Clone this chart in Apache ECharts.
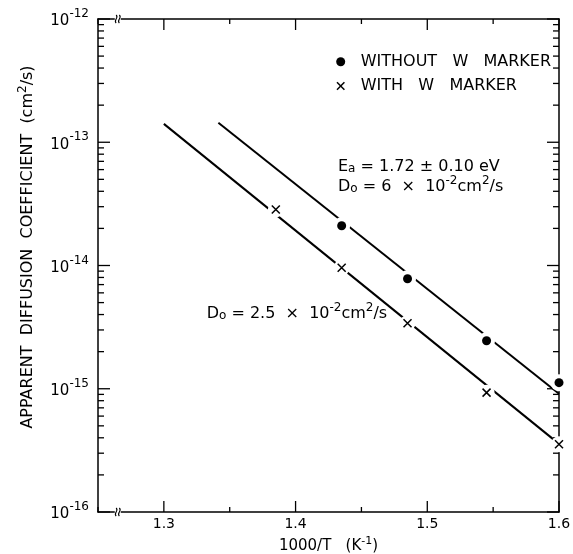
<!DOCTYPE html>
<html>
<head>
<meta charset="utf-8">
<script src="https://cdn.jsdelivr.net/npm/echarts@6/dist/echarts.min.js"></script>
<style>html,body{margin:0;padding:0;background:#fff}#c{width:573px;height:554px}</style>
</head>
<body>
<div id="c"></div>
<script>
// ---- data ----
const withoutX = [1.435, 1.485, 1.545, 1.600];
const withoutY = [2.1e-14, 7.8e-15, 2.45e-15, 1.12e-15];
const withX = [1.385, 1.435, 1.485, 1.545, 1.600];
const withY = [2.85e-14, 9.6e-15, 3.4e-15, 9.3e-16, 3.55e-16];
const fitWithoutX = [1.3414, 1.600];
const fitWithoutY = [1.44e-13, 9.1e-16];
const fitWithX = [1.300, 1.600];
const fitWithY = [1.41e-13, 3.57e-16];
// axis / tick definitions
const xMin = 1.25, xMax = 1.60, xStep = 0.05;
const yMin = 1e-16, yMax = 1e-12;
const decades = [-16, -15, -14, -13, -12];
const mantissas = [1, 2, 3, 4, 5, 6, 7, 8, 9];
const xTickValues = [1.25, 1.30, 1.35, 1.40, 1.45, 1.50, 1.55, 1.60];
const xMajorTicks = [1.30, 1.40, 1.50, 1.60];
const breakX = 1.265;
const legendNames = ['WITHOUT   W   MARKER', 'WITH   W   MARKER'];

const F = 'DejaVu Sans';

function pairs(xs, ys) { return xs.map((x, i) => [x, ys[i]]); }

// tick items: [x, y, side(0 L,1 R,2 B,3 T), major]
const tickItems = [];
decades.forEach(d => {
  mantissas.forEach(m => {
    if (d === -12 && m > 1) return;
    const v = m * Math.pow(10, d);
    const major = m === 1 ? 1 : 0;
    tickItems.push([xMin, v, 0, major]);
    tickItems.push([xMax, v, 1, major]);
  });
});
xTickValues.forEach(x => {
  const major = xMajorTicks.some(t => Math.abs(t - x) < 1e-9) ? 1 : 0;
  tickItems.push([x, yMin, 2, major]);
  tickItems.push([x, yMax, 3, major]);
});

const chart = echarts.init(document.getElementById('c'), null, {renderer: 'canvas'});

const axisLineStyle = {lineStyle: {color: '#000', width: 1.5}};
const crossPath = 'path://M0,0L8,8M8,0L0,8';

const richAnn = {
  n: {fontFamily: F, fontSize: 16, lineHeight: 24, verticalAlign: 'middle', fill: '#000'},
  u: {fontFamily: F, fontSize: 12, lineHeight: 24, verticalAlign: 'middle', padding: [4, 0, 0, 0], fill: '#000'},
  s: {fontFamily: F, fontSize: 12, lineHeight: 24, verticalAlign: 'top', fill: '#000'}
};

const option = {
  animation: false,
  backgroundColor: '#fff',
  grid: {left: 98, right: 14, top: 19, bottom: 42, containLabel: false, outerBoundsMode: 'none'},
  xAxis: [
    {
      type: 'value', min: xMin, max: xMax, interval: xStep, position: 'bottom',
      axisLine: axisLineStyle, axisTick: {show: false}, splitLine: {show: false},
      axisLabel: {
        margin: 5, color: '#000', fontFamily: F, fontSize: 14,
        formatter: v => {
          const r = Math.round(v * 100);
          return (r % 10 === 0) ? (r / 100).toFixed(1) : '';
        }
      },
      name: '{t|1000/T   (K}{s|-1}{t|)}',
      nameLocation: 'middle', nameGap: 24,
      nameTextStyle: {
        rich: {
          t: {fontFamily: F, fontSize: 15, color: '#000', lineHeight: 20, verticalAlign: 'middle'},
          s: {fontFamily: F, fontSize: 11, color: '#000', lineHeight: 20, verticalAlign: 'top'}
        }
      }
    },
    {
      type: 'value', min: xMin, max: xMax, interval: xStep, position: 'top',
      axisLine: axisLineStyle, axisTick: {show: false}, splitLine: {show: false},
      axisLabel: {show: false}
    }
  ],
  yAxis: [
    {
      type: 'log', logBase: 10, min: yMin, max: yMax, splitNumber: 4, position: 'left',
      axisLine: axisLineStyle, axisTick: {show: false}, splitLine: {show: false},
      minorTick: {show: false},
      axisLabel: {
        margin: 9,
        formatter: v => '{b|10}{s|' + Math.round(Math.log10(v)) + '}',
        rich: {
          b: {fontFamily: F, fontSize: 15, color: '#000', lineHeight: 22, verticalAlign: 'middle', padding: [5, 0, 0, 0]},
          s: {fontFamily: F, fontSize: 12, color: '#000', lineHeight: 22, verticalAlign: 'top'}
        }
      }
    },
    {
      type: 'log', logBase: 10, min: yMin, max: yMax, splitNumber: 4, position: 'right',
      axisLine: axisLineStyle, axisTick: {show: false}, splitLine: {show: false},
      axisLabel: {show: false}
    }
  ],
  series: [
    {
      name: 'ticks', type: 'custom', xAxisIndex: 0, yAxisIndex: 0, z: 1, silent: true, clip: false,
      data: tickItems,
      renderItem: (params, api) => {
        const p = api.coord([api.value(0), api.value(1)]);
        const side = api.value(2);
        const len = side < 2 ? (api.value(3) ? 12 : 6) : (api.value(3) ? 11 : 5);
        let x2 = p[0], y2 = p[1];
        if (side === 0) x2 += len;
        else if (side === 1) x2 -= len;
        else if (side === 2) y2 -= len;
        else y2 += len;
        return {type: 'line', shape: {x1: p[0], y1: p[1], x2: x2, y2: y2},
                style: {stroke: '#000', lineWidth: 1.3}};
      }
    },
    {
      name: 'breaks', type: 'custom', xAxisIndex: 0, yAxisIndex: 0, z: 5, silent: true, clip: false,
      data: [[breakX, yMin], [breakX, yMax]],
      renderItem: (params, api) => {
        const p = api.coord([api.value(0), api.value(1)]);
        const cx = p[0], cy = p[1];
        const curve = dx => ({
          type: 'bezierCurve',
          shape: {x1: cx + dx, y1: cy + 4, x2: cx + dx, y2: cy - 4,
                  cpx1: cx + dx - 3.2, cpy1: cy + 1, cpx2: cx + dx + 3.2, cpy2: cy - 1},
          style: {stroke: '#000', lineWidth: 1.1, fill: null}
        });
        return {type: 'group', children: [
          {type: 'rect', shape: {x: cx - 3, y: cy - 1.5, width: 6, height: 3}, style: {fill: '#fff'}},
          curve(-1.6), curve(1.6)
        ]};
      }
    },
    {
      name: 'fitWithout', type: 'line', data: pairs(fitWithoutX, fitWithoutY),
      showSymbol: false, symbol: 'none', z: 2, silent: true,
      lineStyle: {color: '#000', width: 2}
    },
    {
      name: 'fitWith', type: 'line', data: pairs(fitWithX, fitWithY),
      showSymbol: false, symbol: 'none', z: 2, silent: true,
      lineStyle: {color: '#000', width: 2}
    },
    {
      name: 'maskWithout', type: 'scatter', data: pairs(withoutX, withoutY),
      symbol: 'circle', symbolSize: 17, z: 3, silent: true,
      itemStyle: {color: '#fff', opacity: 1}
    },
    {
      name: 'maskWith', type: 'scatter', data: pairs(withX, withY),
      symbol: 'circle', symbolSize: 16, z: 3, silent: true,
      itemStyle: {color: '#fff', opacity: 1}
    },
    {
      name: legendNames[0], type: 'scatter', data: pairs(withoutX, withoutY),
      symbol: 'circle', symbolSize: 9, z: 4,
      itemStyle: {color: '#000', opacity: 1}
    },
    {
      name: legendNames[1], type: 'scatter', data: pairs(withX, withY),
      symbol: crossPath, symbolSize: 8, z: 4,
      itemStyle: {color: 'rgba(0,0,0,0)', borderColor: '#000', borderWidth: 1.5, opacity: 1}
    }
  ],
  graphic: [
    // y-axis title
    {
      type: 'text', x: 28, y: 247, rotation: Math.PI / 2,
      style: {
        text: '{t|APPARENT  DIFFUSION  COEFFICIENT  (cm}{s|2}{t|/s)}',
        align: 'center', verticalAlign: 'middle',
        rich: {
          t: {fontFamily: F, fontSize: 16, lineHeight: 22, verticalAlign: 'middle', fill: '#000'},
          s: {fontFamily: F, fontSize: 12, lineHeight: 22, verticalAlign: 'top', fill: '#000'}
        }
      }
    },
    // legend
    {type: 'circle', shape: {cx: 340.7, cy: 61.7, r: 4.5}, style: {fill: '#000'}},
    {type: 'text', x: 360.7, y: 61.7,
     style: {text: legendNames[0], fontFamily: F, fontSize: 16, fill: '#000', align: 'left', verticalAlign: 'middle'}},
    {type: 'line', shape: {x1: 337, y1: 82.3, x2: 344.4, y2: 89.7}, style: {stroke: '#000', lineWidth: 1.5}},
    {type: 'line', shape: {x1: 344.4, y1: 82.3, x2: 337, y2: 89.7}, style: {stroke: '#000', lineWidth: 1.5}},
    {type: 'text', x: 360.7, y: 86,
     style: {text: legendNames[1], fontFamily: F, fontSize: 16, fill: '#000', align: 'left', verticalAlign: 'middle'}},
    // annotations
    {type: 'text', x: 338, y: 166.7,
     style: {text: '{n|E}{u|a}{n| = 1.72 ± 0.10 eV}', rich: richAnn, align: 'left', verticalAlign: 'middle'}},
    {type: 'text', x: 338, y: 187,
     style: {text: '{n|D}{u|o}{n| = 6  ×  10}{s|-2}{n|cm}{s|2}{n|/s}', rich: richAnn, align: 'left', verticalAlign: 'middle'}},
    {type: 'text', x: 206.7, y: 314,
     style: {text: '{n|D}{u|o}{n| = 2.5  ×  10}{s|-2}{n|cm}{s|2}{n|/s}', rich: richAnn, align: 'left', verticalAlign: 'middle'}}
  ]
};

chart.setOption(option);
</script>
</body>
</html>
